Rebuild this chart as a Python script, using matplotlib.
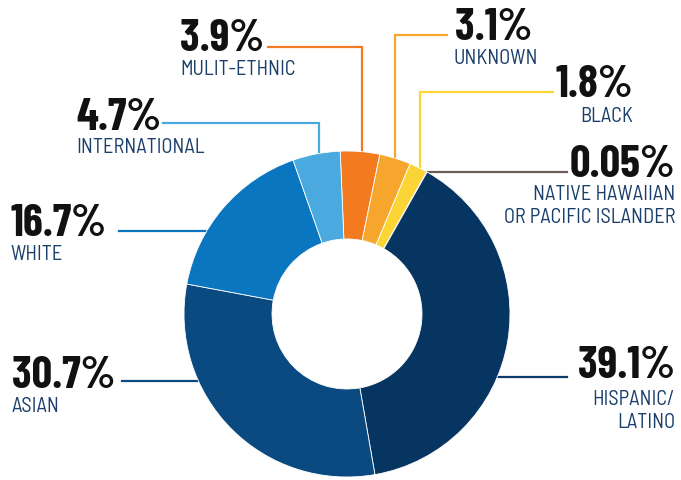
import numpy as np
import matplotlib
matplotlib.use("Agg")
import matplotlib.pyplot as plt

# ---- data ----
categories = ["MULIT-ETHNIC", "UNKNOWN", "BLACK", "NATIVE HAWAIIAN\nOR PACIFIC ISLANDER",
              "HISPANIC/\nLATINO", "ASIAN", "WHITE", "INTERNATIONAL"]
values = [3.9, 3.1, 1.8, 0.05, 39.1, 30.7, 16.7, 4.7]
pct_labels = ["3.9%", "3.1%", "1.8%", "0.05%", "39.1%", "30.7%", "16.7%", "4.7%"]
colors = ["#f47a20", "#f6a62c", "#fbd436", "#6b5b55",
          "#063561", "#0b4a80", "#0a76bf", "#4aa9de"]
line_colors = ["#f47a20", "#f6a62c", "#fbd436", "#6b5e5a",
               "#0d3b6b", "#0b4a80", "#0a76bf", "#4aa9de"]

W, H = 681, 481
fig = plt.figure(figsize=(W / 100, H / 100), dpi=100)
ax = fig.add_axes([0, 0, 1, 1])

cx, cy, R = 347, 315, 163
ax.pie(values, colors=colors, center=(cx, cy), radius=R, startangle=267.6,
       counterclock=True, wedgeprops=dict(width=R - 75, edgecolor="white", linewidth=0.6))
ax.set_xlim(0, W)
ax.set_ylim(H, 0)
ax.set_aspect("equal")
ax.axis("off")

PCT_FAM = ["Barlow Condensed", "Roboto Condensed", "DejaVu Sans"]
LAB_FAM = ["Barlow Semi Condensed", "Roboto Condensed", "DejaVu Sans"]
PCT_SIZE = 32.5
LAB_SIZE = 14.7
LAB_COLOR = "#1b3f6b"

# label layout: (pct x, pct baseline, label baseline, ha, leader spec)
layout = [
    (180, 51, 75, "left", ("v", 48, 268, 362)),
    (455, 40, 64, "left", ("v", 36, 447, 395)),
    (633, 97, 122, "right", ("v", 93, 553, 420)),
    (675, 177, 200, "right", ("hr", 173, 567)),
    (675, 378, 405, "right", ("hr", 378, 567)),
    (12, 388, 412, "left", ("hl", 382, 122)),
    (10, 236, 260, "left", ("hl", 232, 119)),
    (76, 130, 153, "left", ("v", 124, 163, 319)),
]

for i, (px, pb, lb, ha, spec) in enumerate(layout):
    ax.text(px, pb, pct_labels[i], ha=ha, va="baseline", fontsize=PCT_SIZE,
            fontweight="bold", color="#111111", family=PCT_FAM)
    lines = categories[i].split("\n")
    for k, ln in enumerate(lines):
        ax.text(px + (-2 if ha == "left" and i == 1 else 0), lb + 23 * k, ln, ha=ha,
                va="baseline", fontsize=LAB_SIZE, color=LAB_COLOR, family=LAB_FAM)
    lc = line_colors[i]
    if spec[0] == "v":
        _, yh, xf, xv = spec
        yend = cy - np.sqrt(R ** 2 - (xv - cx) ** 2) + 4
        ax.plot([xf, xv, xv], [yh, yh, yend], color=lc, lw=1.6, zorder=0,
                solid_joinstyle="miter")
    elif spec[0] == "hl":
        _, yh, xf = spec
        xend = cx - np.sqrt(R ** 2 - (yh - cy) ** 2) + 4
        ax.plot([xf, xend], [yh, yh], color=lc, lw=1.6, zorder=0)
    else:
        _, yh, xf = spec
        xend = cx + np.sqrt(R ** 2 - (yh - cy) ** 2) - 4
        ax.plot([xend, xf], [yh, yh], color=lc, lw=1.6, zorder=0)

fig.savefig("out.png", dpi=100, facecolor="white")
